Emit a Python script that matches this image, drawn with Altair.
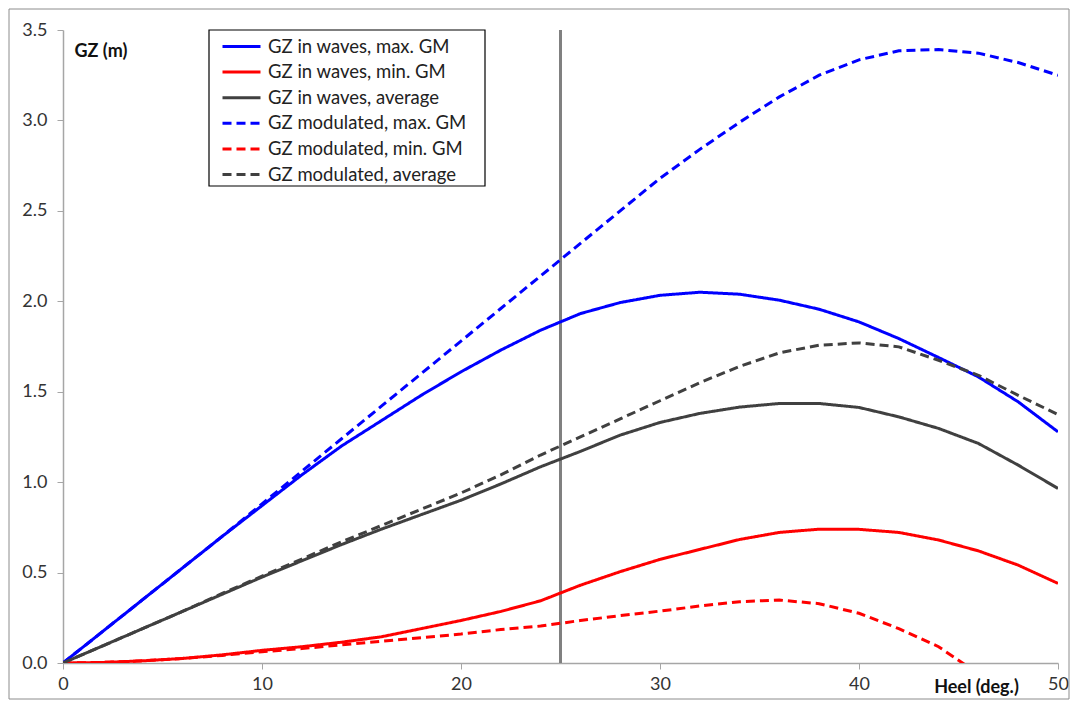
import altair as alt
import pandas as pd

heel = [0, 2, 4, 6, 8, 10, 12, 14, 16, 18, 20, 22, 24, 26, 28, 30, 32, 34, 36, 38, 40, 42, 44, 46, 48, 50]

waves_max = [0.0, 0.175, 0.35, 0.525, 0.70, 0.87, 1.04, 1.20, 1.34, 1.48, 1.61, 1.73, 1.84, 1.932, 1.993, 2.033,
             2.05, 2.039, 2.006, 1.956, 1.886, 1.794, 1.689, 1.582, 1.444, 1.278]
waves_min = [0.0, 0.003, 0.012, 0.025, 0.045, 0.07, 0.09, 0.115, 0.145, 0.19, 0.235, 0.285, 0.344, 0.43, 0.505, 0.573,
             0.628, 0.683, 0.722, 0.74, 0.739, 0.722, 0.68, 0.62, 0.541, 0.44]
waves_avg = [0.0, 0.095, 0.19, 0.285, 0.38, 0.475, 0.565, 0.655, 0.74, 0.82, 0.90, 0.99, 1.085, 1.17, 1.26, 1.33,
             1.38, 1.415, 1.435, 1.435, 1.413, 1.361, 1.297, 1.214, 1.094, 0.965]
mod_max = [0.0, 0.175, 0.35, 0.525, 0.70, 0.88, 1.06, 1.24, 1.42, 1.60, 1.78, 1.96, 2.14, 2.32, 2.50, 2.68,
           2.84, 2.99, 3.13, 3.25, 3.335, 3.385, 3.392, 3.372, 3.32, 3.25]
mod_min = [0.0, 0.003, 0.012, 0.025, 0.042, 0.062, 0.08, 0.10, 0.12, 0.14, 0.16, 0.185, 0.204, 0.235, 0.262, 0.287,
           0.315, 0.339, 0.348, 0.328, 0.275, 0.19, 0.09, -0.06]
mod_avg = [0.0, 0.095, 0.19, 0.285, 0.385, 0.48, 0.575, 0.67, 0.76, 0.85, 0.94, 1.04, 1.15, 1.25, 1.35, 1.45,
           1.55, 1.64, 1.715, 1.757, 1.77, 1.748, 1.674, 1.591, 1.48, 1.374]

series_names = ["GZ in waves, max. GM", "GZ in waves, min. GM", "GZ in waves, average",
                "GZ modulated, max. GM", "GZ modulated, min. GM", "GZ modulated, average"]
series_values = [waves_max, waves_min, waves_avg, mod_max, mod_min, mod_avg]
series_colors = ["#0000ff", "#ff0000", "#404040", "#0000ff", "#ff0000", "#404040"]
series_dashes = [[1, 0], [1, 0], [1, 0], [9, 5], [9, 5], [9, 5]]

marker_heel = [25]

rows = []
for name, vals in zip(series_names, series_values):
    for h, v in zip(heel, vals):
        rows.append({"heel": h, "gz": v, "series": name})
df = pd.DataFrame(rows)

FONT = "Lato"

x_enc = alt.X("heel:Q", scale=alt.Scale(domain=[0, 50], nice=False),
              axis=alt.Axis(values=[0, 10, 20, 30, 40, 50], title="Heel (deg.)", labelFlush=False,
                            titleX=913, titleY=15, titleAnchor="middle", titleBaseline="top"))
y_enc = alt.Y("gz:Q", scale=alt.Scale(domain=[0, 3.5], nice=False),
              axis=alt.Axis(values=[0, 0.5, 1, 1.5, 2, 2.5, 3, 3.5], format=".1f", title="GZ (m)",
                            labelFlush=False,
                            titleAngle=0, titleX=11, titleY=26, titleAlign="left", titleBaseline="alphabetic"))

frame = alt.Chart(pd.DataFrame({"k": [0]})).mark_rect(
    fill=None, stroke="#8c8c8c", strokeWidth=1, clip=False
).encode(x=alt.value(-54), x2=alt.value(1006), y=alt.value(-21), y2=alt.value(669))

legend_box = alt.Chart(pd.DataFrame({"k": [0]})).mark_rect(
    fill="#ffffff", stroke="#000000", strokeWidth=1.2, clip=False
).encode(x=alt.value(146), x2=alt.value(422), y=alt.value(0), y2=alt.value(156))

vline = alt.Chart(pd.DataFrame({"heel": marker_heel})).mark_rule(
    color="#808080", strokeWidth=3
).encode(x=alt.X("heel:Q"))

lines = alt.Chart(df).mark_line(strokeWidth=3, clip=True).encode(
    x=x_enc,
    y=y_enc,
    color=alt.Color("series:N", scale=alt.Scale(domain=series_names, range=series_colors),
                    legend=alt.Legend(title=None)),
    strokeDash=alt.StrokeDash("series:N", scale=alt.Scale(domain=series_names, range=series_dashes),
                              legend=alt.Legend(title=None)),
    order=alt.Order("heel:Q"),
)

chart = alt.layer(frame, vline, legend_box, lines).properties(
    width=995, height=633,
    autosize=alt.AutoSizeParams(type="none"),
    padding={"left": 63, "top": 30, "right": 15, "bottom": 41},
).configure_view(stroke=None).configure_axis(
    grid=False, domainColor="#a6a6a6", tickColor="#a6a6a6", tickSize=6, domainWidth=1.5,
    labelFont=FONT, labelFontSize=18, labelColor="#333333", titleFont=FONT, titleFontSize=18,
    titleFontWeight="bold", titleColor="#111111"
).configure_axisY(labelPadding=10).configure_axisX(labelPadding=6).configure_legend(
    orient="none", legendX=148, legendY=5, padding=0,
    symbolType="M0,0H3.8", symbolSize=400, symbolStrokeWidth=3,
    labelFont=FONT, labelFontSize=18.5, labelColor="#222222", rowPadding=4.6, labelOffset=34,
    labelLimit=400,
)

chart.save("out.html", embed_options={"renderer": "svg", "actions": False})
